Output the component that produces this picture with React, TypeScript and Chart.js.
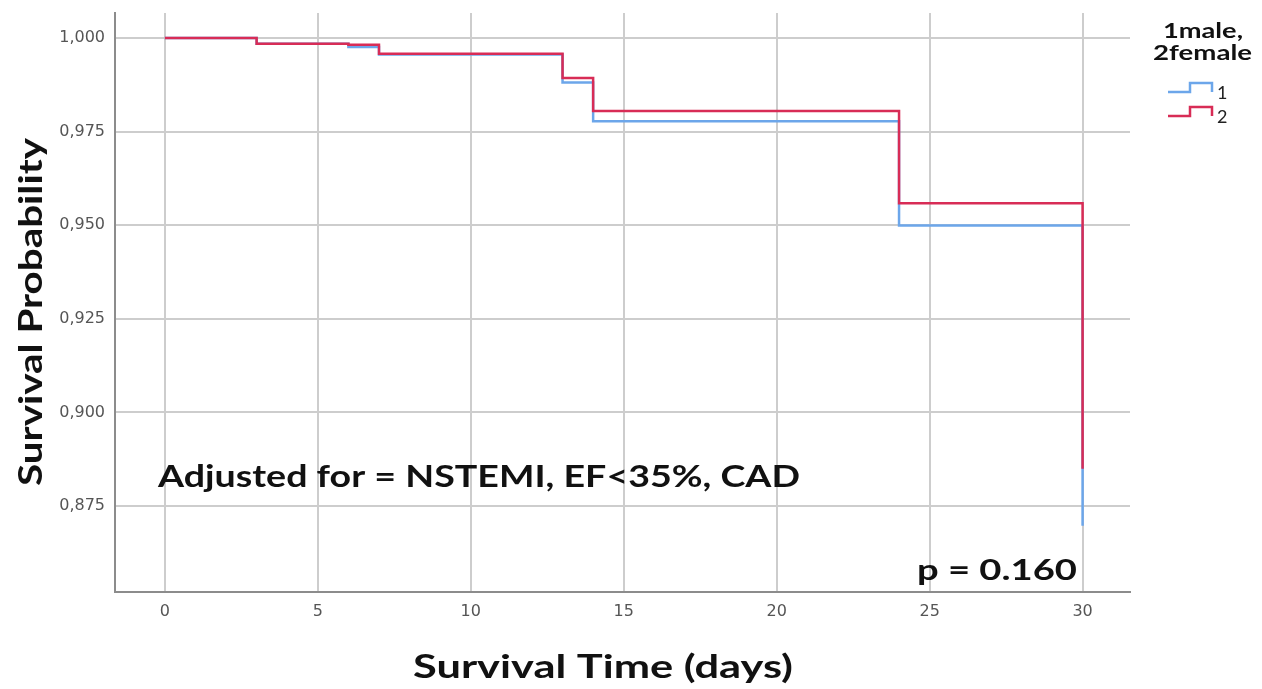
import React, { useEffect, useRef } from 'react';
import { Chart, registerables } from 'chart.js';

Chart.register(...registerables);

// ---- data ----
const times = [0, 3, 6, 7, 13, 14, 24, 30];
const survivalMale = [1.0, 0.9985, 0.9976, 0.9956, 0.9881, 0.9778, 0.9499, 0.8697];
const survivalFemale = [1.0, 0.9985, 0.9982, 0.9958, 0.9893, 0.9805, 0.9559, 0.8849];
const xTicks = [0, 5, 10, 15, 20, 25, 30];
const yTicks = [0.875, 0.9, 0.925, 0.95, 0.975, 1.0];
const seriesLabels = ['1', '2'];
const legendTitle = ['1male,', '2female'];
const adjustedNote = 'Adjusted for = NSTEMI, EF<35%, CAD';
const pValueNote = 'p = 0.160';
const xTitle = 'Survival Time (days)';
const yTitle = 'Survival Probability';

const BLUE = 'rgb(108,166,234)';
const RED = 'rgb(216,44,86)';
const FONT = 'Lato, "Open Sans", sans-serif';
const TICK_FONT = '"DejaVu Sans", sans-serif';

function fitText(ctx: CanvasRenderingContext2D, text: string, x: number, y: number, width: number, size: number, weight = 'bold') {
  ctx.save();
  ctx.font = `${weight} ${size}px ${FONT}`;
  ctx.textAlign = 'left';
  ctx.textBaseline = 'alphabetic';
  const w = ctx.measureText(text).width;
  ctx.translate(x, y);
  ctx.scale(width / w, 1);
  ctx.fillText(text, 0, 0);
  ctx.restore();
}

const overlayPlugin = {
  id: 'overlay',
  afterDraw(chart: any) {
    const ctx: CanvasRenderingContext2D = chart.ctx;
    ctx.save();
    ctx.fillStyle = '#111';
    // axis titles
    fitText(ctx, xTitle, 413, 678, 380, 32);
    ctx.save();
    ctx.translate(42, 486);
    ctx.rotate(-Math.PI / 2);
    fitText(ctx, yTitle, 0, 0, 348, 32);
    ctx.restore();
    // annotations
    fitText(ctx, adjustedNote, 158, 487, 642, 31);
    fitText(ctx, pValueNote, 917, 580, 160, 28);
    // legend title
    fitText(ctx, legendTitle[0], 1163, 38, 80, 21);
    fitText(ctx, legendTitle[1], 1153, 60, 99, 21);
    // legend entries
    const colors = [BLUE, RED];
    const ys = [92, 116];
    colors.forEach((c, i) => {
      const y = ys[i];
      ctx.strokeStyle = c;
      ctx.lineWidth = 2.5;
      ctx.beginPath();
      ctx.moveTo(1168, y);
      ctx.lineTo(1190, y);
      ctx.lineTo(1190, y - 9);
      ctx.lineTo(1212, y - 9);
      ctx.lineTo(1212, y);
      ctx.stroke();
      ctx.fillStyle = '#222';
      ctx.font = `18px ${FONT}`;
      ctx.textAlign = 'left';
      ctx.textBaseline = 'middle';
      ctx.fillText(seriesLabels[i], 1217, y + 1);
    });
    ctx.restore();
  },
};

export default function App() {
  const ref = useRef<HTMLCanvasElement>(null);
  useEffect(() => {
    document.body.style.margin = '0';
    const canvas = ref.current!;
    const chart = new Chart(canvas, {
      type: 'line',
      data: {
        datasets: [
          {
            label: seriesLabels[0],
            data: times.map((t, i) => ({ x: t, y: survivalMale[i] })),
            borderColor: BLUE,
            borderWidth: 2.5,
            pointRadius: 0,
            fill: false,
            stepped: 'before',
            order: 1,
          },
          {
            label: seriesLabels[1],
            data: times.map((t, i) => ({ x: t, y: survivalFemale[i] })),
            borderColor: RED,
            borderWidth: 2.5,
            pointRadius: 0,
            fill: false,
            stepped: 'before',
            order: 0,
          },
        ],
      },
      options: {
        animation: false,
        responsive: false,
        devicePixelRatio: 1,
        layout: { padding: { top: 13, right: 132, left: 0, bottom: 0 } },
        plugins: { legend: { display: false }, tooltip: { enabled: false } },
        scales: {
          x: {
            type: 'linear',
            min: -1.63,
            max: 31.55,
            afterBuildTicks: (s: any) => { s.ticks = xTicks.map((v) => ({ value: v })); },
            afterFit: (s: any) => { s.height = 97; s.paddingLeft = 0; s.paddingRight = 0; },
            ticks: { font: { size: 16, family: TICK_FONT }, color: '#555', padding: 10, maxRotation: 0 },
            grid: { color: '#cdcdcd', lineWidth: 2, drawTicks: false },
            border: { color: '#8c8c8c', width: 2 },
          },
          y: {
            type: 'linear',
            min: 0.852,
            max: 1.0067,
            afterBuildTicks: (s: any) => { s.ticks = yTicks.map((v) => ({ value: v })); },
            afterFit: (s: any) => { s.width = 115; s.paddingTop = 0; s.paddingBottom = 0; },
            ticks: {
              font: { size: 16, family: TICK_FONT },
              color: '#555',
              padding: 10,
              callback: (v: any) => Number(v).toFixed(3).replace('.', ','),
            },
            grid: { color: '#cdcdcd', lineWidth: 2, drawTicks: false },
            border: { color: '#8c8c8c', width: 2 },
          },
        },
      },
      plugins: [overlayPlugin],
    } as any);
    return () => chart.destroy();
  }, []);
  return (
    <div style={{ width: 1262, height: 689, background: '#fff' }}>
      <canvas ref={ref} width={1262} height={689} />
    </div>
  );
}
